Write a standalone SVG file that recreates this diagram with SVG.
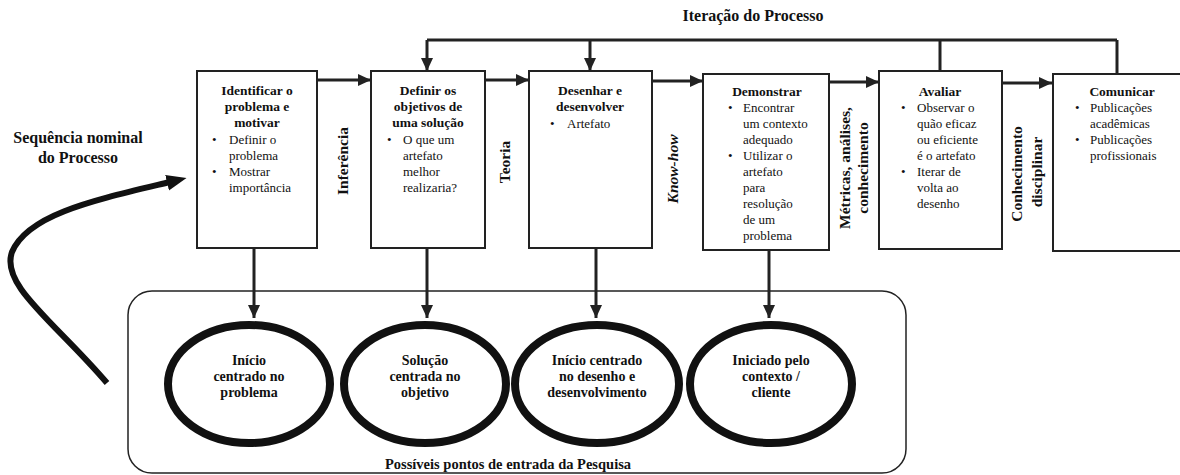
<svg xmlns="http://www.w3.org/2000/svg" width="1180" height="475" viewBox="0 0 1180 475">
<style>
text{font-family:"Liberation Serif","Times New Roman",serif;fill:#111}
.t{font-size:13.5px;font-weight:bold;text-anchor:middle}
.b{font-size:13px}
.v{font-size:15.5px;font-weight:bold;text-anchor:middle}
.e{font-size:14px;font-weight:bold;text-anchor:middle}
.box{fill:#fff;stroke:#222;stroke-width:2}
.ln{fill:none;stroke:#222;stroke-width:3}
.ell{fill:#fff;stroke:#111;stroke-width:8}
</style>
<defs>
<marker id="ah" markerUnits="userSpaceOnUse" markerWidth="14" markerHeight="12" refX="13" refY="6" orient="auto">
<path d="M0,0 L13,6 L0,12 Z" fill="#222"/>
</marker>
<marker id="big" markerUnits="userSpaceOnUse" markerWidth="22" markerHeight="18" refX="3" refY="8" orient="auto">
<path d="M0,0 L20,8 L0,16 Z" fill="#111"/>
</marker>
</defs>
<rect width="1180" height="475" fill="#fff"/>

<text x="753" y="21" style="font-size:16px;font-weight:bold;text-anchor:middle">Iteração do Processo</text>

<g id="seq-label">
<text x="78" y="143" style="font-size:16px;font-weight:bold;text-anchor:middle">Sequência nominal</text>
<text x="78" y="163" style="font-size:16px;font-weight:bold;text-anchor:middle">do Processo</text>
</g>

<g id="entry-group">
<rect x="128" y="291" width="778" height="182" rx="24" fill="none" stroke="#222" stroke-width="1.5"/>
<text x="508" y="469" style="font-size:14.5px;font-weight:bold;text-anchor:middle">Possíveis pontos de entrada da Pesquisa</text>
</g>

<g id="connectors">
<path class="ln" d="M427,40 H1117"/>
<path class="ln" d="M427,40 V71" marker-end="url(#ah)"/>
<path class="ln" d="M590,40 V71" marker-end="url(#ah)"/>
<path class="ln" d="M940,40 V71"/>
<path class="ln" d="M1117,40 V74"/>
<path class="ln" d="M317,80 H371" marker-end="url(#ah)"/>
<path class="ln" d="M485,80 H529" marker-end="url(#ah)"/>
<path class="ln" d="M652,81 H703" marker-end="url(#ah)"/>
<path class="ln" d="M829,82 H879" marker-end="url(#ah)"/>
<path class="ln" d="M1002,83 H1052" marker-end="url(#ah)"/>
<path class="ln" d="M254,248 V318" marker-end="url(#ah)"/>
<path class="ln" d="M427,248 V318" marker-end="url(#ah)"/>
<path class="ln" d="M596,248 V318" marker-end="url(#ah)"/>
<path class="ln" d="M769,250 V318" marker-end="url(#ah)"/>
<path fill="none" stroke="#111" stroke-width="6" d="M107,383 C55,322 0,285 12,252 C28,214 95,200 170,182" marker-end="url(#big)"/>
</g>

<g id="label-inferencia"><text class="v" transform="translate(348,161) rotate(-90)">Inferência</text></g>
<g id="label-teoria"><text class="v" transform="translate(510,162) rotate(-90)">Teoria</text></g>
<g id="label-knowhow"><text class="v" font-style="italic" transform="translate(678,169) rotate(-90)">Know-how</text></g>
<g id="label-metricas">
<text class="v" transform="translate(850,168) rotate(-90)">Métricas, análises,</text>
<text class="v" transform="translate(868,168) rotate(-90)">conhecimento</text>
</g>
<g id="label-conhecimento">
<text class="v" transform="translate(1022,174) rotate(-90)">Conhecimento</text>
<text class="v" transform="translate(1042,172) rotate(-90)">disciplinar</text>
</g>

<g id="box-identificar">
<rect class="box" x="197" y="71" width="120" height="177"/>
<text class="t" x="257" y="95">Identificar o</text>
<text class="t" x="257" y="111">problema e</text>
<text class="t" x="257" y="127">motivar</text>
<text class="b" x="212" y="144">•</text><text class="b" x="229" y="144">Definir o</text>
<text class="b" x="229" y="160">problema</text>
<text class="b" x="212" y="176">•</text><text class="b" x="229" y="176">Mostrar</text>
<text class="b" x="229" y="192">importância</text>
</g>

<g id="box-definir">
<rect class="box" x="371" y="71" width="114" height="177"/>
<text class="t" x="428" y="95">Definir os</text>
<text class="t" x="428" y="111">objetivos de</text>
<text class="t" x="428" y="127">uma solução</text>
<text class="b" x="387" y="144">•</text><text class="b" x="403" y="144">O que um</text>
<text class="b" x="403" y="160">artefato</text>
<text class="b" x="403" y="176">melhor</text>
<text class="b" x="403" y="192">realizaria?</text>
</g>

<g id="box-desenhar">
<rect class="box" x="529" y="71" width="123" height="177"/>
<text class="t" x="590" y="95">Desenhar e</text>
<text class="t" x="590" y="111">desenvolver</text>
<text class="b" x="550" y="128">•</text><text class="b" x="567" y="128">Artefato</text>
</g>

<g id="box-demonstrar">
<rect class="box" x="703" y="74" width="126" height="176"/>
<text class="t" x="767" y="96">Demonstrar</text>
<text class="b" x="728" y="112">•</text><text class="b" x="743" y="112">Encontrar</text>
<text class="b" x="743" y="128">um contexto</text>
<text class="b" x="743" y="144">adequado</text>
<text class="b" x="728" y="160">•</text><text class="b" x="743" y="160">Utilizar o</text>
<text class="b" x="743" y="176">artefato</text>
<text class="b" x="743" y="192">para</text>
<text class="b" x="743" y="208">resolução</text>
<text class="b" x="743" y="224">de um</text>
<text class="b" x="743" y="240">problema</text>
</g>

<g id="box-avaliar">
<rect class="box" x="879" y="71" width="123" height="178"/>
<text class="t" x="940" y="96">Avaliar</text>
<text class="b" x="901" y="112">•</text><text class="b" x="917" y="112">Observar o</text>
<text class="b" x="917" y="128">quão eficaz</text>
<text class="b" x="917" y="144">ou eficiente</text>
<text class="b" x="917" y="160">é o artefato</text>
<text class="b" x="901" y="176">•</text><text class="b" x="917" y="176">Iterar de</text>
<text class="b" x="917" y="192">volta ao</text>
<text class="b" x="917" y="208">desenho</text>
</g>

<g id="box-comunicar">
<rect class="box" x="1053" y="74" width="140" height="177"/>
<text class="t" x="1122" y="96">Comunicar</text>
<text class="b" x="1075" y="112">•</text><text class="b" x="1090" y="112">Publicações</text>
<text class="b" x="1090" y="128">acadêmicas</text>
<text class="b" x="1075" y="144">•</text><text class="b" x="1090" y="144">Publicações</text>
<text class="b" x="1090" y="160">profissionais</text>
</g>

<g id="ell-problema">
<ellipse class="ell" cx="249" cy="384" rx="81" ry="59"/>
<text class="e" x="249" y="365">Início</text>
<text class="e" x="249" y="381">centrado no</text>
<text class="e" x="249" y="397">problema</text>
</g>
<g id="ell-objetivo">
<ellipse class="ell" cx="425" cy="384" rx="81" ry="59"/>
<text class="e" x="425" y="365">Solução</text>
<text class="e" x="425" y="381">centrada no</text>
<text class="e" x="425" y="397">objetivo</text>
</g>
<g id="ell-desenho">
<ellipse class="ell" cx="597" cy="384" rx="82" ry="59"/>
<text class="e" x="597" y="365">Início centrado</text>
<text class="e" x="597" y="381">no desenho e</text>
<text class="e" x="597" y="397">desenvolvimento</text>
</g>
<g id="ell-contexto">
<ellipse class="ell" cx="771" cy="384" rx="81" ry="59"/>
<text class="e" x="771" y="365">Iniciado pelo</text>
<text class="e" x="771" y="381">contexto /</text>
<text class="e" x="771" y="397">cliente</text>
</g>
</svg>
